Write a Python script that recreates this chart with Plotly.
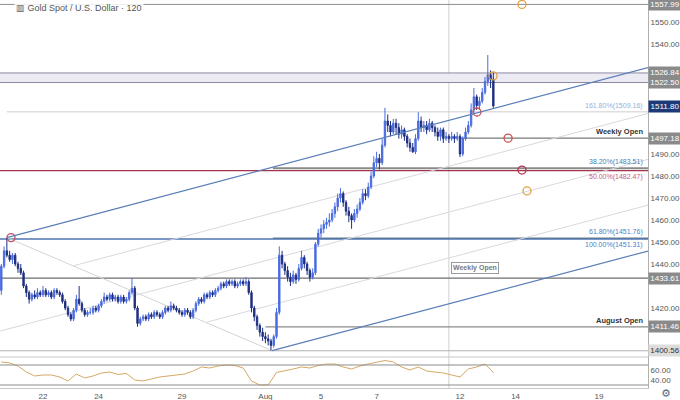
import plotly.graph_objects as go

# ---------------- data ----------------
BARS_PER_DAY = 10
FIRST_BAR_DAY = -1.5   # trading-day index (0 = Jul 22) of the first bar
first_open = 1428

closes = [
    1439, 1446, 1444, 1442, 1444, 1440, 1438, 1436, 1430, 1427,
    1424, 1426, 1425, 1427, 1426, 1428, 1426, 1427, 1425, 1428,
    1427, 1426, 1423, 1420, 1417, 1415, 1419, 1424, 1422, 1419,
    1417, 1418, 1418, 1420, 1419, 1421, 1423, 1425, 1424, 1426,
    1424, 1425, 1423, 1425, 1423, 1424, 1427, 1429, 1420, 1413,
    1415, 1416, 1415, 1417, 1416, 1418, 1417, 1416, 1418, 1420,
    1419, 1421, 1420, 1419, 1418, 1417, 1419, 1418, 1416, 1419,
    1422, 1424, 1423, 1426, 1425, 1427, 1426, 1428, 1429, 1431,
    1430, 1432, 1431, 1432, 1430, 1431, 1432, 1431, 1432, 1427,
    1420, 1416, 1412, 1409, 1407, 1406, 1405, 1403, 1407, 1418,
    1444, 1440, 1437, 1434, 1432, 1435, 1433, 1438, 1443, 1440,
    1437, 1434, 1436, 1449, 1454, 1456, 1458, 1459, 1460, 1463,
    1466, 1470, 1472, 1468, 1464, 1462, 1460, 1463, 1465, 1468,
    1472, 1471, 1475, 1480, 1486, 1488, 1486, 1494, 1505, 1503,
    1500, 1504, 1502, 1499, 1501, 1498, 1495, 1493, 1491, 1497,
    1505, 1502, 1503, 1501, 1504, 1502, 1500, 1498, 1501, 1497,
    1498, 1497, 1498, 1497, 1498, 1490, 1497, 1500, 1503, 1510,
    1516, 1512, 1514, 1518, 1523, 1526, 1524, 1511.8,
]
highs = [
    1440, 1448, 1452, 1446, 1445, 1445, 1441, 1440, 1437, 1431,
    1428, 1427, 1428, 1429, 1428, 1430, 1429, 1428, 1428, 1429,
    1429, 1428, 1427, 1424, 1421, 1418, 1420, 1426, 1430, 1423,
    1420, 1419, 1420, 1421, 1421, 1422, 1424, 1427, 1426, 1427,
    1427, 1426, 1426, 1426, 1426, 1425, 1428, 1433.6, 1430, 1421,
    1416, 1417, 1417, 1418, 1418, 1419, 1419, 1418, 1419, 1421,
    1421, 1423, 1422, 1421, 1420, 1419, 1420, 1420, 1419, 1420,
    1423, 1425, 1425, 1427, 1427, 1428, 1428, 1429, 1430, 1432,
    1432, 1433, 1433, 1433, 1433, 1432, 1433, 1433, 1434, 1433,
    1428, 1421, 1417, 1413, 1411, 1409, 1408, 1406, 1408, 1420,
    1448, 1446, 1441, 1439, 1436, 1437, 1436, 1440, 1446, 1444,
    1441, 1438, 1438, 1450, 1456, 1458, 1460, 1461, 1463, 1465,
    1468, 1472, 1474.5, 1473, 1469, 1466, 1463, 1465, 1467, 1470,
    1474, 1474, 1477, 1482, 1489, 1491, 1490, 1497, 1511, 1508,
    1505, 1506, 1506, 1504, 1503, 1502, 1499, 1497, 1495, 1499,
    1509, 1507, 1505, 1505, 1506, 1505, 1503, 1502, 1502, 1502,
    1500, 1499, 1500, 1499, 1500, 1499, 1498, 1502, 1505, 1513,
    1520, 1517, 1516, 1520, 1525, 1535, 1528, 1527,
]
lows = [
    1426, 1438, 1443, 1441, 1440, 1439, 1436, 1435, 1429, 1425,
    1422, 1423, 1424, 1424, 1425, 1425, 1425, 1425, 1424, 1424,
    1426, 1425, 1422, 1419, 1416, 1414, 1414, 1418, 1421, 1418,
    1416, 1416, 1417, 1417, 1418, 1418, 1420, 1422, 1423, 1423,
    1423, 1423, 1422, 1422, 1422, 1422, 1423, 1426, 1419, 1411.5,
    1412, 1414, 1414, 1414, 1415, 1415, 1416, 1415, 1415, 1417,
    1418, 1418, 1419, 1418, 1417, 1416, 1416, 1417, 1415, 1415,
    1418, 1421, 1422, 1422, 1424, 1424, 1425, 1425, 1427, 1428,
    1429, 1429, 1430, 1430, 1429, 1429, 1430, 1430, 1430, 1426,
    1418, 1414, 1410, 1407, 1405, 1404, 1403, 1400.6, 1402, 1406,
    1417, 1438, 1435, 1432, 1430, 1431, 1431, 1432, 1437, 1438,
    1435, 1432, 1433, 1435, 1448, 1452, 1454, 1456, 1457, 1459,
    1461, 1464, 1468, 1466, 1462, 1459, 1456, 1459, 1461, 1464,
    1467, 1469, 1470, 1474, 1479, 1484, 1483, 1485, 1493, 1500,
    1498, 1499, 1499, 1497, 1497, 1496, 1493, 1491, 1490.5, 1490,
    1496, 1500, 1500, 1499, 1500, 1500, 1498, 1496, 1496, 1495,
    1496, 1495, 1496, 1495, 1496, 1488.6, 1489, 1496, 1499, 1502,
    1508, 1510, 1510, 1513, 1517, 1521, 1520, 1511,
]
opens = [first_open] + closes[:-1]

# RSI(14) sampled every 3rd bar
RSI_STEP = 3
rsi_values = [
    76, 74, 68, 56, 48, 50, 50, 46, 38, 52,
    44, 48, 54, 56, 51, 53, 40, 38, 42, 46,
    48, 50, 52, 58, 66, 64, 68, 70, 69, 64,
    38, 30, 30, 55, 58, 62, 66, 64, 69, 72,
    72, 66, 62, 68, 72, 76, 79, 76, 66, 60,
    66, 58, 56, 54, 50, 46, 62, 66, 72, 55,
]

tick_days = [0, 2, 5, 8, 10, 12, 15, 17, 20]
tick_labels = ["22", "24", "29", "Aug", "5", "7", "12", "14", "19"]
price_ticks = [1420, 1440, 1450, 1460, 1470, 1480, 1490, 1540, 1550]
rsi_ticks = [40, 60]

# horizontal levels: price, start day (None = full width), colour, width
level_prices = [1557.99, 1526.84, 1522.50, 1509.16, 1497.18, 1483.51,
                1482.47, 1451.76, 1451.31, 1433.61, 1411.46, 1400.56]
level_starts = [None, None, None, -1.3, 15.0, 8.27,
                None, 8.27, None, None, 8.0, None]
level_colors = ["#8c8c8c", "#8d8aa3", "#8d8aa3", "#cfcfcf", "#7a7a7a", "#8a8a8a",
                "#a3344d", "#6f7f87", "#4f76b0", "#6e6e6e", "#8a8a8a", "#b0b0b0"]
level_widths = [1, 1, 1, 1, 1.2, 2, 1.2, 1.5, 1.5, 1.2, 1.2, 1]

# right-axis price flags
flag_prices = [1557.99, 1526.84, 1522.50, 1511.80, 1497.18, 1433.61, 1411.46, 1400.56]
flag_bg = ["#8a8a8a", "#8a8a8a", "#8a8a8a", "#1d3a78", "#8a8a8a", "#8a8a8a", "#8a8a8a", "#dcdcdc"]
flag_fg = ["white", "white", "white", "white", "white", "white", "white", "#333333"]

# pitchfork anchors: swing high, swing low, slope (price per trading day)
swing_high_day, swing_high_price = -1.3, 1452.0
swing_low_day, swing_low_price = 8.24, 1400.6
channel_slope = 3.35
quarter_start_days = [-1.55, 1.1, 5.9]   # median, upper quarter, lower quarter starts

# marker circles on levels
circle_days = [-1.15, 17.23, 16.19, 15.61, 16.73, 17.23, 17.41]
circle_prices = [1452.0, 1558.0, 1525.5, 1509.1, 1497.2, 1482.7, 1473.2]
circle_colors = ["#c0506a", "#e0a040", "#e0a040", "#d05050", "#d05050", "#b03050", "#e0a040"]

crosshair_day = 14.6

# ---------------- layout geometry ----------------
X_MIN, X_MAX = -1.547, 21.763
Y_MIN, Y_MAX = 1397.73, 1560.0
RSI_MIN, RSI_MAX = 24, 86
SPLIT = 0.0799

bar_days = [FIRST_BAR_DAY + i / BARS_PER_DAY for i in range(len(closes))]
rsi_days = bar_days[::RSI_STEP][:len(rsi_values)]

fig = go.Figure()

fig.add_trace(go.Candlestick(
    x=bar_days, open=opens, high=highs, low=lows, close=closes,
    increasing=dict(line=dict(color="#4a6be0", width=1), fillcolor="#4a6be0"),
    decreasing=dict(line=dict(color="#1f2f80", width=1), fillcolor="#1f2f80"),
    whiskerwidth=0, xaxis="x", yaxis="y", showlegend=False, hoverinfo="skip",
))

fig.add_trace(go.Scatter(
    x=rsi_days, y=rsi_values, mode="lines",
    line=dict(color="#d6a865", width=1), xaxis="x", yaxis="y2",
    showlegend=False, hoverinfo="skip",
))

fig.add_trace(go.Scatter(
    x=circle_days, y=circle_prices, mode="markers",
    marker=dict(symbol="circle-open", size=8, color=circle_colors, line=dict(width=1.3)),
    xaxis="x", yaxis="y", showlegend=False, hoverinfo="skip", cliponaxis=False,
))

shapes = []
shapes.append(dict(type="rect", xref="x", yref="y", x0=X_MIN, x1=X_MAX,
                   y0=level_prices[2], y1=level_prices[1],
                   fillcolor="#ecebf3", line=dict(width=0), layer="below"))
for p, s, c, w in zip(level_prices, level_starts, level_colors, level_widths):
    shapes.append(dict(type="line", xref="x", yref="y",
                       x0=X_MIN if s is None else s, x1=X_MAX, y0=p, y1=p,
                       line=dict(color=c, width=w), layer="below"))


def up_line(day0, price0, day_end):
    return price0 + channel_slope * (day_end - day0)


shapes.append(dict(type="line", xref="x", yref="y",
                   x0=swing_high_day, y0=swing_high_price,
                   x1=X_MAX, y1=up_line(swing_high_day, swing_high_price, X_MAX),
                   line=dict(color="#5a7fb8", width=1.2)))
shapes.append(dict(type="line", xref="x", yref="y",
                   x0=swing_low_day, y0=swing_low_price,
                   x1=X_MAX, y1=up_line(swing_low_day, swing_low_price, X_MAX),
                   line=dict(color="#5a7fb8", width=1.2)))
shapes.append(dict(type="line", xref="x", yref="y",
                   x0=swing_high_day, y0=swing_high_price,
                   x1=swing_low_day, y1=swing_low_price,
                   line=dict(color="#d4d4d4", width=1), layer="below"))
upper_end = up_line(swing_high_day, swing_high_price, X_MAX)
lower_end = up_line(swing_low_day, swing_low_price, X_MAX)
for frac, sday in zip([0.5, 0.25, 0.75], quarter_start_days):
    end_p = upper_end + (lower_end - upper_end) * frac
    start_p = end_p - channel_slope * (X_MAX - sday)
    shapes.append(dict(type="line", xref="x", yref="y", x0=sday, y0=start_p,
                       x1=X_MAX, y1=end_p, line=dict(color="#d8d8e0", width=1),
                       layer="below"))
shapes.append(dict(type="line", xref="x", yref="paper", x0=crosshair_day, x1=crosshair_day,
                   y0=0, y1=1, line=dict(color="#d0d0d0", width=1), layer="below"))
shapes.append(dict(type="line", xref="paper", yref="paper", x0=0, x1=1, y0=SPLIT, y1=SPLIT,
                   line=dict(color="#c8c8c8", width=1)))
for v in [70, 30]:
    shapes.append(dict(type="line", xref="paper", yref="y2", x0=0, x1=1, y0=v, y1=v,
                       line=dict(color="#8c8c8c", width=1)))

FONT = "Liberation Sans"
ann = []
for p, bg, fg in zip(flag_prices, flag_bg, flag_fg):
    ann.append(dict(xref="paper", yref="y", x=1.0, y=p, xanchor="left", yanchor="middle",
                    text=f"{p:.2f}", showarrow=False, bgcolor=bg, width=30, borderpad=1,
                    font=dict(family=FONT, size=8, color=fg)))

RIGHT = 645 / 648
text_labels = [
    ("161.80%(1509.16)", 1509.16, "bottom", "#93b0dc", False),
    ("Weekly Open", 1497.18, "bottom", "#333333", True),
    ("38.20%(1483.51)", 1483.51, "bottom", "#4d7bb0", False),
    ("50.00%(1482.47)", 1482.47, "top", "#c65a73", False),
    ("61.80%(1451.76)", 1451.76, "bottom", "#4d80c4", False),
    ("100.00%(1451.31)", 1451.31, "top", "#4d80c4", False),
    ("August Open", 1411.46, "bottom", "#333333", True),
]
for t, p, ya, col, bold in text_labels:
    ann.append(dict(xref="paper", yref="y", x=RIGHT, y=p, xanchor="right", yanchor=ya,
                    text=f"<b>{t}</b>" if bold else t, showarrow=False,
                    font=dict(family=FONT, size=7 if not bold else 7.5, color=col)))

ann.append(dict(xref="x", yref="y", x=15.54, y=1438.2, text="<b>Weekly Open</b>",
                showarrow=False, bordercolor="#9a9a9a", borderwidth=1, borderpad=1,
                bgcolor="white", font=dict(family=FONT, size=7, color="#7a7a7a")))
ann.append(dict(xref="paper", yref="paper", x=14 / 648, y=1 - 8 / 388, xanchor="left",
                yanchor="middle", text="▥ Gold Spot / U.S. Dollar · 120", showarrow=False,
                bgcolor="rgba(255,255,255,0.85)",
                font=dict(family=FONT, size=9, color="#555555")))
ann.append(dict(xref="paper", yref="paper", x=666 / 648, y=1 - 393 / 388, xanchor="center",
                yanchor="middle", text="⚙", showarrow=False,
                font=dict(family="DejaVu Sans", size=11, color="#666666")))

fig.update_layout(
    width=680, height=400,
    margin=dict(l=0, r=32, t=0, b=12, autoexpand=False),
    paper_bgcolor="white", plot_bgcolor="white",
    showlegend=False,
    shapes=shapes, annotations=ann,
    xaxis=dict(range=[X_MIN, X_MAX], anchor="y2", tickmode="array", tickvals=tick_days,
               ticktext=tick_labels, showgrid=False, zeroline=False, ticks="",
               rangeslider=dict(visible=False), showline=True, linecolor="#c8c8c8",
               tickfont=dict(family=FONT, size=8, color="#555555")),
    yaxis=dict(domain=[SPLIT, 1], range=[Y_MIN, Y_MAX], side="right", anchor="x",
               tickmode="array", tickvals=price_ticks,
               ticktext=[f"{v:.2f}" for v in price_ticks],
               showgrid=False, zeroline=False, ticks="", showline=True, linecolor="#b0b0b0",
               tickfont=dict(family=FONT, size=8, color="#555555")),
    yaxis2=dict(domain=[0, SPLIT], range=[RSI_MIN, RSI_MAX], side="right", anchor="x",
                tickmode="array", tickvals=rsi_ticks, ticktext=[f"{v:.2f}" for v in rsi_ticks],
                showgrid=False, zeroline=False, ticks="", showline=True, linecolor="#b0b0b0",
                tickfont=dict(family=FONT, size=8, color="#555555")),
)

fig.write_html("out.html", config={"displayModeBar": False, "staticPlot": True})

# remove the browser's default page margin so the 680x400 figure fills the window
with open("out.html", encoding="utf-8") as f:
    html = f.read()
html = html.replace("<head>", "<head><style>html,body{margin:0;padding:0;overflow:hidden;}</style>", 1)
with open("out.html", "w", encoding="utf-8") as f:
    f.write(html)
